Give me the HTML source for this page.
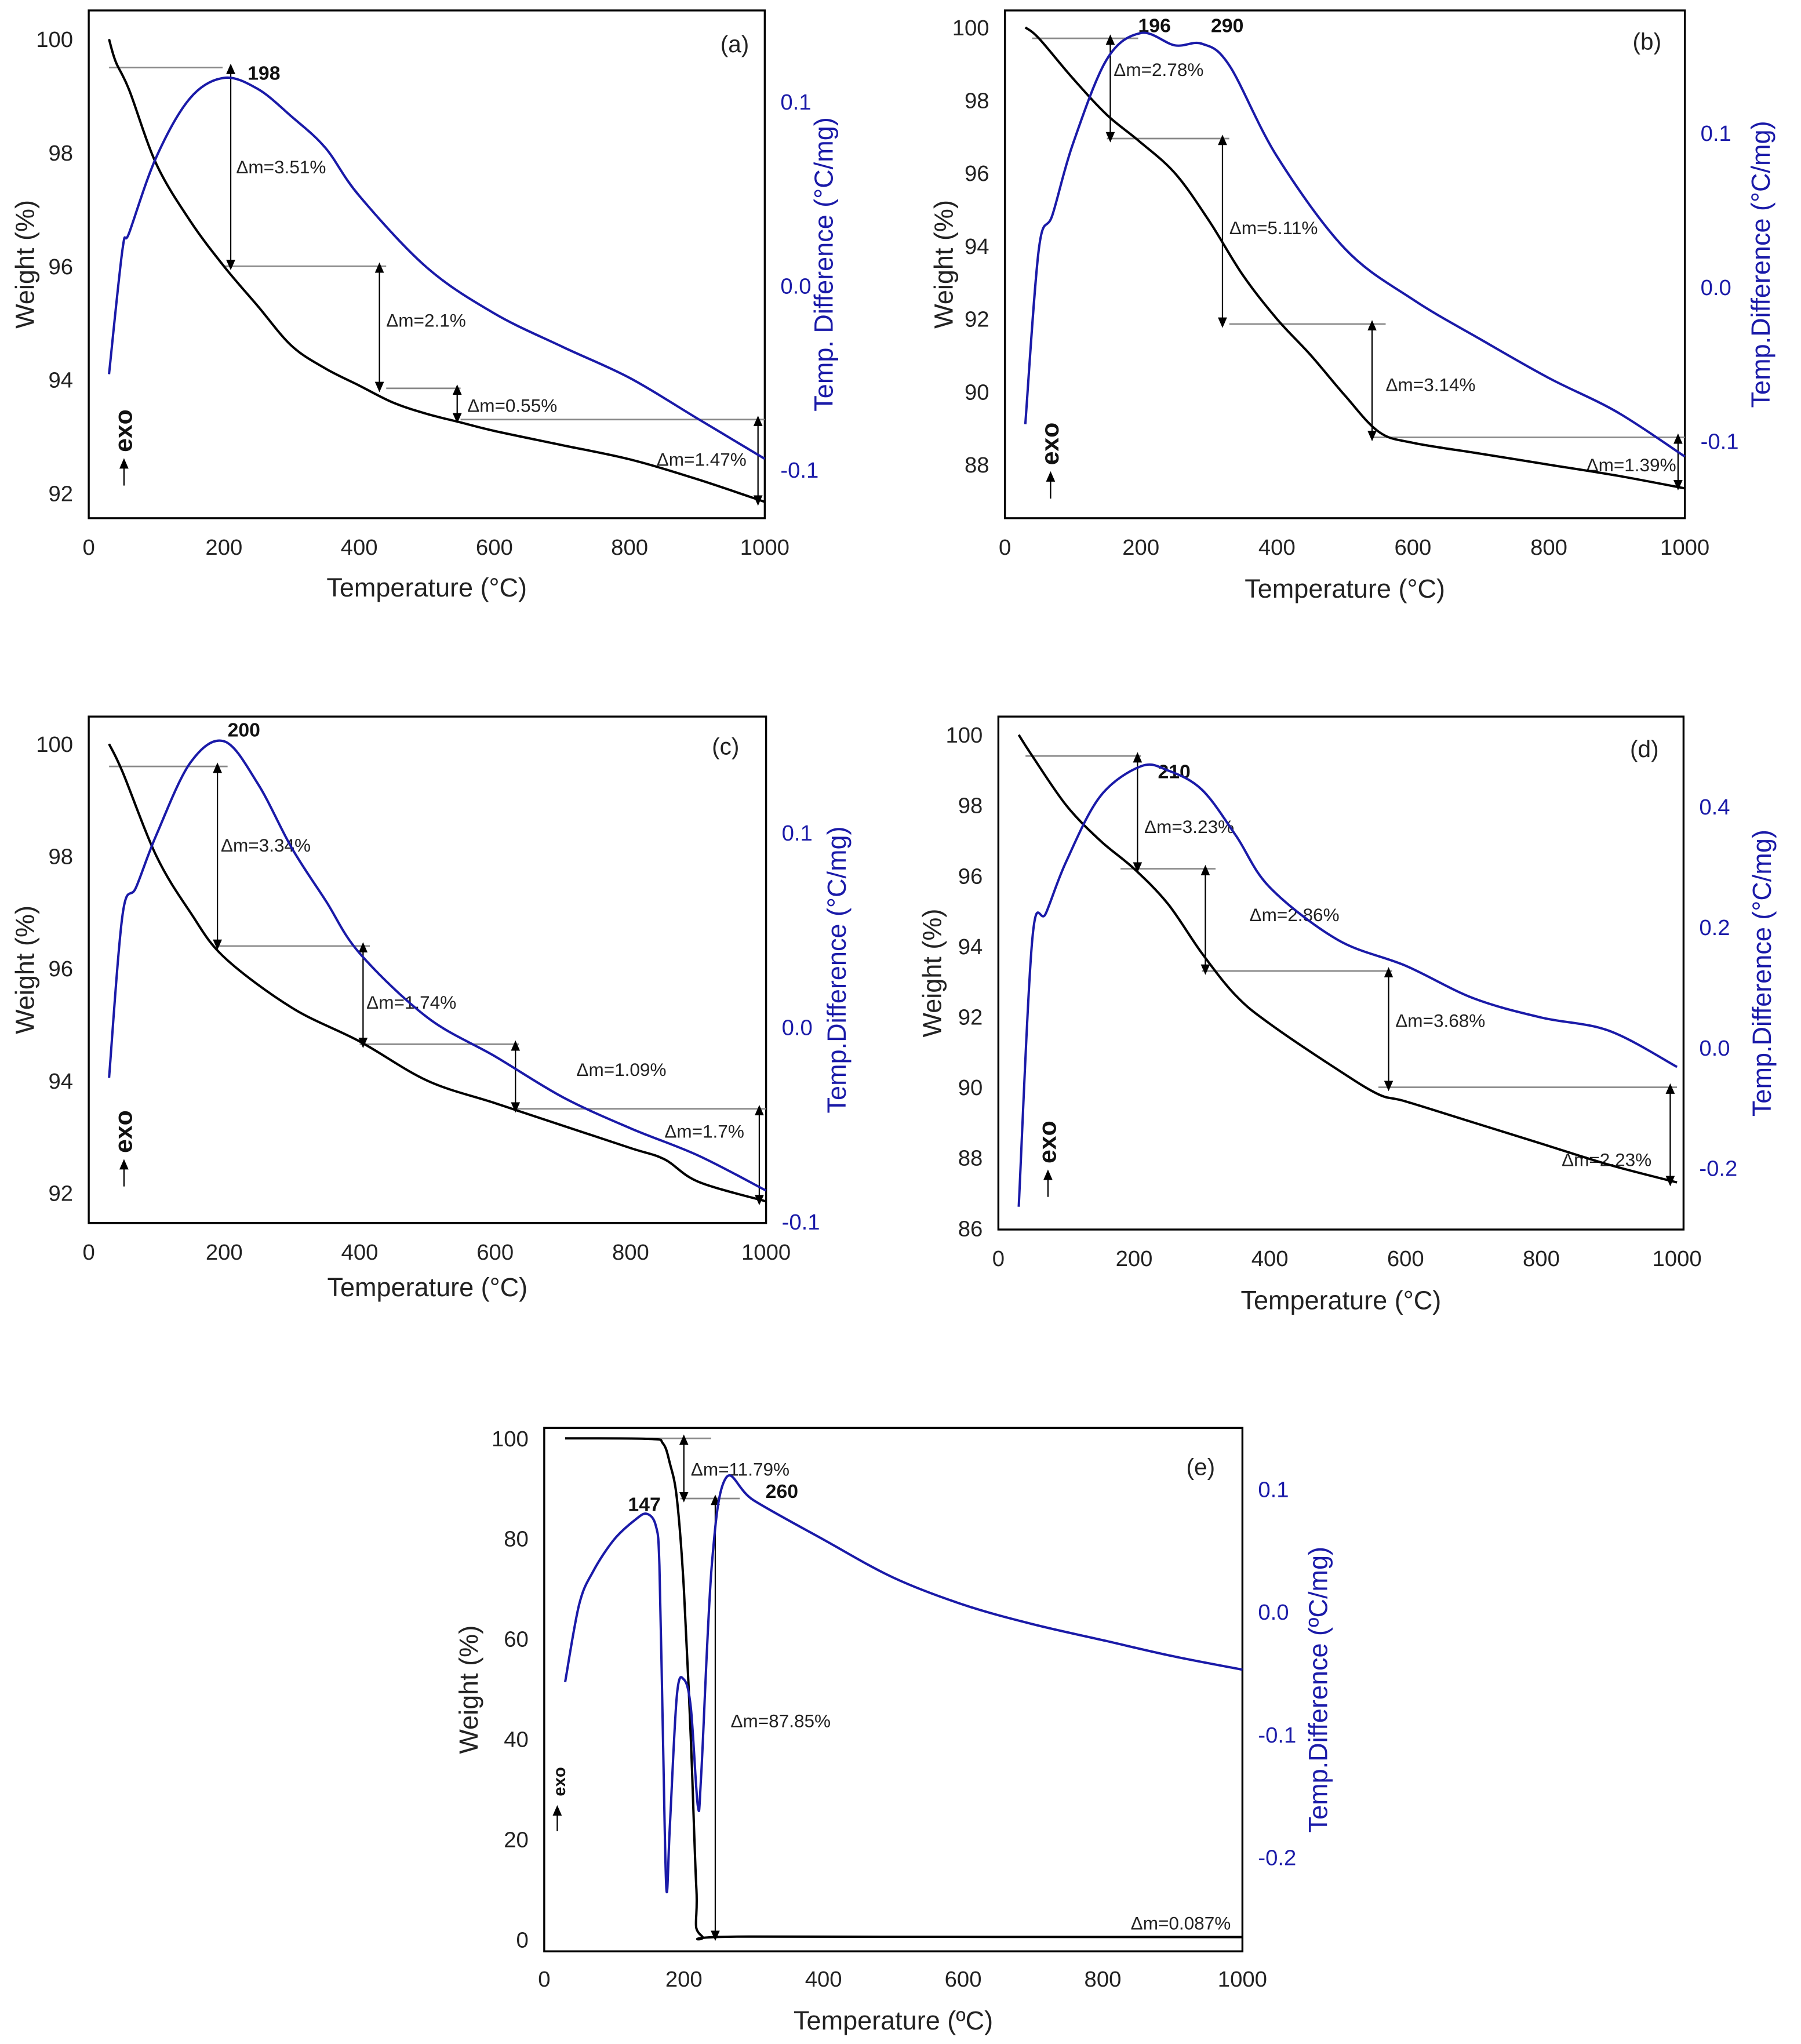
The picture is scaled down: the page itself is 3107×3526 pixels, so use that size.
<!DOCTYPE html>
<html><head><meta charset="utf-8"><style>
html,body{margin:0;padding:0;background:#fff;}
svg{display:block;}
text{font-family:"Liberation Sans",Arial,sans-serif;}
</style></head><body>
<svg id="chart" xmlns="http://www.w3.org/2000/svg" width="3107" height="3526" viewBox="0 0 1380 1566" preserveAspectRatio="none">
<defs>
<marker id="ah" markerWidth="8" markerHeight="8" refX="4" refY="4" orient="auto-start-reverse" markerUnits="userSpaceOnUse"><path d="M0,0.5 L8,4 L0,7.5 z" fill="#000"/></marker>
</defs>
<rect width="1380" height="1566" fill="#fff"/>
</svg>
<script>
// ---- Panel (a) data ----
const aTemp = [30,40,60,100,150,200,250,300,350,400,450,500,550,600,700,800,900,1000];
const aWeight = [100,99.6,99.1,97.8,96.8,96.0,95.3,94.6,94.2,93.9,93.6,93.4,93.25,93.1,92.85,92.6,92.25,91.85];
const aDtaTemp = [30,50,60,100,150,200,250,300,350,400,500,600,700,800,900,1000];
const aDta = [-0.048,0.02,0.029,0.07,0.102,0.113,0.107,0.092,0.075,0.049,0.01,-0.015,-0.033,-0.05,-0.072,-0.094];
// ---- Panel (b) data ----
const bTemp = [30,50,100,150,196,250,300,350,400,450,500,550,600,700,800,900,1000];
const bWeight = [100,99.7,98.6,97.6,96.9,96.0,94.7,93.2,92.0,91.0,89.9,88.9,88.6,88.3,88.0,87.7,87.35];
const bDtaTemp = [30,50,70,100,150,200,250,290,330,400,500,600,700,800,900,1000];
const bDta = [-0.089,0.025,0.047,0.093,0.148,0.165,0.157,0.158,0.144,0.085,0.025,-0.008,-0.034,-0.059,-0.081,-0.110];
// ---- Panel (c) data ----
const cTemp = [30,50,100,150,200,300,400,500,600,700,800,850,900,1000];
const cWeight = [100,99.5,98.0,97.0,96.2,95.3,94.7,94.0,93.6,93.2,92.8,92.6,92.2,91.85];
const cDtaTemp = [30,50,70,100,150,200,250,300,350,400,500,600,700,800,900,1000];
const cDta = [-0.026,0.058,0.072,0.099,0.136,0.147,0.125,0.092,0.065,0.038,0.005,-0.015,-0.036,-0.052,-0.066,-0.084];
// ---- Panel (d) data ----
const dTemp = [30,50,100,150,200,250,300,350,400,500,560,600,700,800,900,1000];
const dWeight = [100,99.4,98.0,97.0,96.2,95.2,93.8,92.6,91.8,90.5,89.8,89.6,89.0,88.4,87.8,87.3];
const dDtaTemp = [30,50,70,100,150,210,250,300,350,400,500,600,700,800,900,1000];
const dDta = [-0.264,0.18,0.223,0.309,0.417,0.467,0.46,0.428,0.352,0.266,0.179,0.136,0.082,0.05,0.028,-0.032];
// ---- Panel (e) data ----
const eTemp = [30,150,170,180,190,200,210,218,225,300,1000];
const eWeight = [100,99.9,99.0,95,88,70,40,10,0.8,0.6,0.5];
const eDtaTemp = [30,50,70,100,130,147,160,165,170,175,180,190,200,210,220,225,240,260,300,400,500,600,700,800,900,1000];
const eDta = [-0.057,0.006,0.033,0.059,0.075,0.08,0.07,0.038,-0.1,-0.226,-0.174,-0.068,-0.055,-0.078,-0.158,-0.131,0.038,0.109,0.091,0.059,0.028,0.006,-0.01,-0.023,-0.036,-0.047];
// tick labels
const xTicks = [0,200,400,600,800,1000];
const aLeftTicks=[92,94,96,98,100], aRightTicks=[-0.1,0.0,0.1];
const bLeftTicks=[88,90,92,94,96,98,100], bRightTicks=[-0.1,0.0,0.1];
const cLeftTicks=[92,94,96,98,100], cRightTicks=[-0.1,0.0,0.1];
const dLeftTicks=[86,88,90,92,94,96,98,100], dRightTicks=[-0.2,0.0,0.2,0.4];
const eLeftTicks=[0,20,40,60,80,100], eRightTicks=[-0.2,-0.1,0.0,0.1];

const svg=document.getElementById('chart');
const NS='http://www.w3.org/2000/svg';
function mk(tag,attrs,parent){const e=document.createElementNS(NS,tag);for(const k in attrs)e.setAttribute(k,attrs[k]);(parent||svg).appendChild(e);return e;}
function fmt(v){return v.toFixed(1).replace('-0.0','0.0');}
function smooth(pts){
 let d='M'+pts[0][0]+','+pts[0][1];
 for(let i=0;i<pts.length-1;i++){
  const p0=pts[Math.max(0,i-1)],p1=pts[i],p2=pts[i+1],p3=pts[Math.min(pts.length-1,i+2)];
  const c1=[p1[0]+(p2[0]-p0[0])/6,p1[1]+(p2[1]-p0[1])/6];
  const c2=[p2[0]-(p3[0]-p1[0])/6,p2[1]-(p3[1]-p1[1])/6];
  d+=` C${c1[0]},${c1[1]} ${c2[0]},${c2[1]} ${p2[0]},${p2[1]}`;
 }
 return d;
}

const panels=[
 {id:'a',box:[68,8,586,397],x0:68,x1:586,lv:[100,92],ly:[30,378],rv:[0.1,-0.1],ry:[78,360],
  T:aTemp,W:aWeight,DT:aDtaTemp,D:aDta,lt:aLeftTicks,rt:aRightTicks,
  hl:[[30,198,99.5],[198,440,96.0],[440,550,93.85],[550,1000,93.3]],
  ar:[[210,99.5,96.0],[430,96.0,93.85],[545,93.85,93.3],[990,93.3,91.85]],
  lb:[['Δm=3.51%',218,97.75],['Δm=2.1%',440,95.05],['Δm=0.55%',560,93.55],['Δm=1.47%',840,92.6]],
  pk:[['198',235,99.4]],letter:[563,40],rtitle:'Temp. Difference (°C/mg)',rtx:638,ltx:18,xty:457,xtl:425,exo:[95,330]},
 {id:'b',box:[770,8,1291,397],x0:770,x1:1291,lv:[100,88],ly:[21,356],rv:[0.1,-0.1],ry:[102,338],
  T:bTemp,W:bWeight,DT:bDtaTemp,D:bDta,lt:bLeftTicks,rt:bRightTicks,
  hl:[[40,196,99.7],[150,330,96.95],[330,560,91.86],[540,1000,88.75]],
  ar:[[155,99.7,96.95],[320,96.95,91.86],[540,91.86,88.75],[990,88.75,87.4]],
  lb:[['Δm=2.78%',160,98.85],['Δm=5.11%',330,94.5],['Δm=3.14%',560,90.2],['Δm=1.39%',855,88.0]],
  pk:[['196',196,100.05],['290',303,100.05]],letter:[1262,38],rtitle:'Temp.Difference (°C/mg)',rtx:1356,ltx:722,xty:458,xtl:425,exo:[805,340]},
 {id:'c',box:[68,549,587,937],x0:68,x1:587,lv:[100,92],ly:[570,914],rv:[0.1,-0.1],ry:[638,936],
  T:cTemp,W:cWeight,DT:cDtaTemp,D:cDta,lt:cLeftTicks,rt:cRightTicks,
  hl:[[30,205,99.6],[190,415,96.4],[400,635,94.65],[630,1000,93.5]],
  ar:[[190,99.6,96.4],[405,96.4,94.65],[630,94.65,93.5],[990,93.5,91.85]],
  lb:[['Δm=3.34%',195,98.2],['Δm=1.74%',410,95.4],['Δm=1.09%',720,94.2],['Δm=1.7%',850,93.1]],
  pk:[['200',205,100.25]],letter:[556,578],rtitle:'Temp.Difference (°C/mg)',rtx:648,ltx:18,xty:993,xtl:965,exo:[95,867]},
 {id:'d',box:[765,549,1290,942],x0:765,x1:1285,lv:[100,86],ly:[563,941],rv:[0.4,-0.2],ry:[618,895],
  T:dTemp,W:dWeight,DT:dDtaTemp,D:dDta,lt:dLeftTicks,rt:dRightTicks,
  hl:[[40,210,99.4],[180,320,96.2],[300,580,93.3],[560,1000,90.0]],
  ar:[[205,99.4,96.2],[305,96.2,93.3],[575,93.3,90.0],[990,90.0,87.3]],
  lb:[['Δm=3.23%',215,97.4],['Δm=2.86%',370,94.9],['Δm=3.68%',585,91.9],['Δm=2.23%',830,87.95]],
  pk:[['210',235,98.95]],letter:[1260,580],rtitle:'Temp.Difference (°C/mg)',rtx:1357,ltx:713,xty:1003,xtl:970,exo:[803,875]},
 {id:'e',box:[417,1094,952,1495],x0:417,x1:952,lv:[100,0],ly:[1102,1486],rv:[0.1,-0.2],ry:[1141,1423],
  T:eTemp,W:eWeight,DT:eDtaTemp,D:eDta,lt:eLeftTicks,rt:eRightTicks,
  hl:[[142,239,100],[195,280,88]],
  ar:[[200,100,88],[245,88,0.5]],
  lb:[['Δm=11.79%',210,93.9],['Δm=87.85%',267,43.7],['Δm=0.087%',840,3.3]],
  pk:[['147',120,86.8],['260',317,89.4]],letter:[920,1130],rtitle:'Temp.Difference (ºC/mg)',rtx:1017,ltx:358,xty:1555,xtl:1522,exo:[427,1365],small:true,xtitle:'Temperature (ºC)'}
];

panels.forEach(p=>{
 const g=mk('g',{});
 
 
 const X=t=>p.x0+(t/1000)*(p.x1-p.x0);
 const YL=w=>p.ly[0]+(p.lv[0]-w)*(p.ly[1]-p.ly[0])/(p.lv[0]-p.lv[1]);
 const YR=v=>p.ry[0]+(p.rv[0]-v)*(p.ry[1]-p.ry[0])/(p.rv[0]-p.rv[1]);
 const [bx0,by0,bx1,by1]=p.box;
 const fr=mk('rect',{x:bx0,y:by0,width:bx1-bx0,height:by1-by0,fill:'none',stroke:'#000','stroke-width':1.5},g);
 
 
 xTicks.forEach(t=>{const e=mk('text',{x:X(t),y:p.xtl,'font-size':17,'text-anchor':'middle',fill:'#222'},g);e.textContent=t;
  });
 p.lt.forEach(w=>{const e=mk('text',{x:bx0-12,y:YL(w)+6,'font-size':17,'text-anchor':'end',fill:'#222'},g);e.textContent=w;
  });
 p.rt.forEach(v=>{const e=mk('text',{x:bx1+12,y:YR(v)+6,'font-size':17,'text-anchor':'start',fill:'#1a1aa8'},g);e.textContent=fmt(v);
  });
 const xt=mk('text',{x:(bx0+bx1)/2,y:p.xty,'font-size':20,'text-anchor':'middle',fill:'#222'},g);xt.textContent=p.xtitle||'Temperature (°C)';
 
 const cy=(by0+by1)/2;
 const lt=mk('text',{x:p.ltx+8,y:cy,'font-size':20,'text-anchor':'middle',fill:'#222',transform:`rotate(-90 ${p.ltx+8} ${cy})`},g);lt.textContent='Weight (%)';
 
 const rt=mk('text',{x:p.rtx,y:cy,'font-size':20,'text-anchor':'middle',fill:'#1a1aa8',transform:`rotate(-90 ${p.rtx} ${cy})`},g);rt.textContent=p.rtitle;
 
 const le=mk('text',{x:p.letter[0],y:p.letter[1],'font-size':18,'text-anchor':'middle',fill:'#222'},g);le.textContent='('+p.id+')';
 
 p.hl.forEach(h=>{const l=mk('line',{x1:X(h[0]),x2:X(h[1]),y1:YL(h[2]),y2:YL(h[2]),stroke:'#888','stroke-width':1.2},g);
  });
 p.ar.forEach(a=>{const l=mk('line',{x1:X(a[0]),x2:X(a[0]),y1:YL(a[1])+1,y2:YL(a[2])-1,stroke:'#000','stroke-width':1,'marker-start':'url(#ah)','marker-end':'url(#ah)'},g);
  });
 p.lb.forEach(b=>{const e=mk('text',{x:X(b[1]),y:YL(b[2])+5,'font-size':14,fill:'#222'},g);e.textContent=b[0];
  });
 p.pk.forEach(b=>{const e=mk('text',{x:X(b[1]),y:YL(b[2])+5,'font-size':15,'font-weight':'bold',fill:'#111'},g);e.textContent=b[0];
  });
 const tg=mk('path',{d:smooth(p.T.map((t,i)=>[X(t),YL(p.W[i])])),fill:'none',stroke:'#000','stroke-width':1.8,'stroke-linejoin':'round'},g);
 
 const dt=mk('path',{d:smooth(p.DT.map((t,i)=>[X(t),YR(p.D[i])])),fill:'none',stroke:'#1a1aa8','stroke-width':1.8,'stroke-linejoin':'round'},g);
 
 const [ex,ey]=p.exo;
 const fs=p.small?13:19;
 const et=mk('text',{x:ex+6,y:ey,'font-size':fs,'font-weight':'bold','text-anchor':'middle',fill:'#111',transform:`rotate(-90 ${ex+6} ${ey})`},g);et.textContent='exo';
 
 const ea=mk('line',{x1:ex,x2:ex,y1:ey+(p.small?38:42),y2:ey+(p.small?22:25),stroke:'#000','stroke-width':1,'marker-end':'url(#ah)'},g);
 
});
</script>
</body></html>
